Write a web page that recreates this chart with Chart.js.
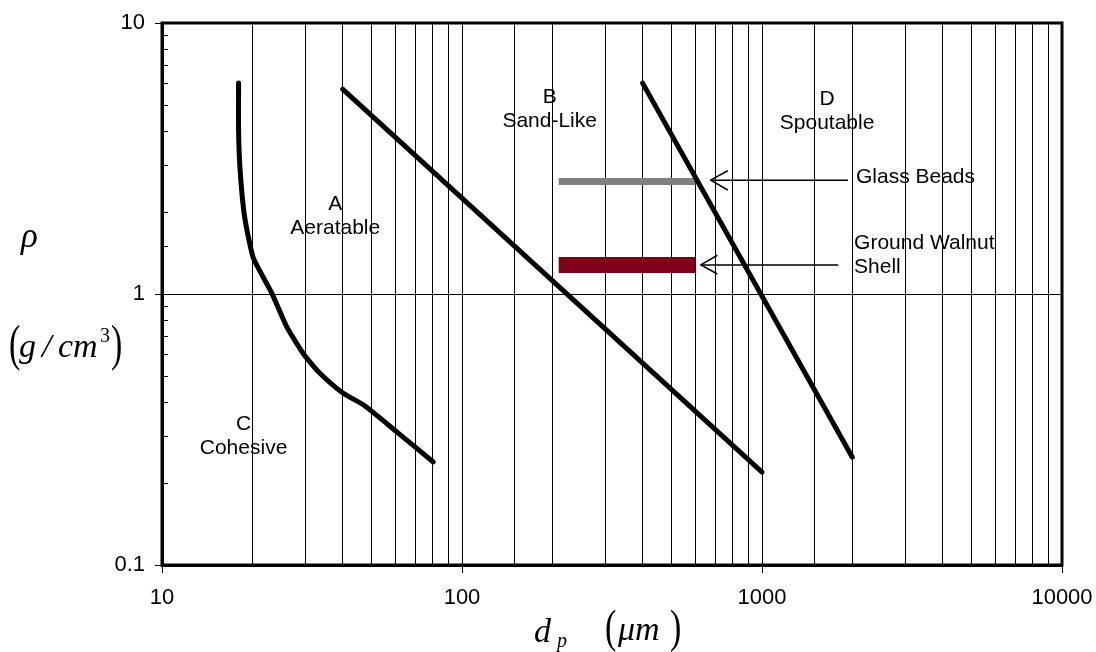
<!DOCTYPE html>
<html>
<head>
<meta charset="utf-8">
<title>Geldart powder classification</title>
<script src="https://cdn.jsdelivr.net/npm/chart.js@4.4.0/dist/chart.umd.min.js"></script>
<style>
  html, body { margin: 0; padding: 0; background: #fff; }
</style>
</head>
<body>
<canvas id="geldart" width="1096" height="652"></canvas>
<script>
// axis limits (log-log)
const X_MIN = 10, X_MAX = 10000;
const Y_MIN = 0.1, Y_MAX = 10;

// C / A boundary (cohesive)
const cohesiveX = [18, 18, 18.2, 18.7, 19.3, 20.2, 23.2, 26, 28.8, 30, 33.6, 40.2, 46.9, 60.6, 80.2];
const cohesiveY = [6.0, 4.0, 2.9, 2.06, 1.67, 1.35, 1.01, 0.76, 0.63, 0.59, 0.51, 0.43, 0.39, 0.31, 0.24];

// A / B boundary
const aeratableX = [40, 1000];
const aeratableY = [5.7, 0.22];

// B / D boundary
const spoutableX = [400, 2000];
const spoutableY = [6.0, 0.25];

// particle size ranges of the two test powders
const glassX = [210, 600];
const glassY = [2.6, 2.6];
const walnutX = [210, 600];
const walnutY = [1.28, 1.28];

// pointer arrows: shaft and head (wing, tip, wing)
const glassArrowX = [1935, 674];
const glassArrowY = [2.63, 2.63];
const glassHeadX = [769, 674, 769];
const glassHeadY = [2.85, 2.63, 2.42];
const walnutArrowX = [1795, 625];
const walnutArrowY = [1.28, 1.28];
const walnutHeadX = [710, 625, 710];
const walnutHeadY = [1.39, 1.28, 1.185];

// region and powder labels, x/y in data units (first line), lines stack downward
const labelText = [["A", "Aeratable"], ["B", "Sand-Like"], ["C", "Cohesive"], ["D", "Spoutable"],
                   ["Glass Beads"], ["Ground Walnut", "Shell"]];
const labelX = [37.8, 196, 18.7, 1648, 2057, 2027];
const labelY = [2.19, 5.43, 0.337, 5.33, 2.75, 1.57];
const labelAlign = ["center", "center", "center", "center", "left", "left"];

const SANS = "'Liberation Sans', Arial, sans-serif";
const SERIF = "'Liberation Serif', 'Times New Roman', serif";

function pts(xs, ys) {
  return xs.map((v, i) => ({ x: v, y: ys[i] }));
}

function isDecade(v) {
  const l = Math.log10(v);
  return Math.abs(l - Math.round(l)) < 1e-6;
}

function line(label, xs, ys, color, width, cap, tension) {
  return {
    label: label,
    data: pts(xs, ys),
    showLine: true,
    borderColor: color,
    backgroundColor: color,
    borderWidth: width,
    borderCapStyle: cap || "round",
    borderJoinStyle: "round",
    pointRadius: 0,
    tension: tension || 0
  };
}

// draws a tall bracket by stretching a normal glyph vertically
function bracket(ctx, ch, x, baseline, size, stretch) {
  ctx.save();
  ctx.translate(x, baseline);
  ctx.scale(1, stretch);
  ctx.font = size + "px " + SERIF;
  ctx.fillText(ch, 0, 0);
  ctx.restore();
}

// frame, inner minor ticks, labels and axis titles
const decorPlugin = {
  id: "decor",
  afterDatasetsDraw(chart) {
    const { ctx, chartArea: a, scales } = chart;
    const x = scales.x, y = scales.y;
    ctx.save();

    // minor ticks on the left axis point into the plot
    ctx.strokeStyle = "#000";
    ctx.lineWidth = 1;
    y.ticks.forEach(t => {
      if (isDecade(t.value)) return;
      const py = Math.round(y.getPixelForValue(t.value)) + 0.5;
      ctx.beginPath();
      ctx.moveTo(a.left, py);
      ctx.lineTo(a.left + 6, py);
      ctx.stroke();
    });

    // heavy frame round the plot
    ctx.lineWidth = 3;
    ctx.strokeRect(a.left, a.top, a.right - a.left, a.bottom - a.top);

    // labels
    ctx.fillStyle = "#000";
    ctx.font = "21px " + SANS;
    ctx.textBaseline = "middle";
    labelText.forEach((lines, i) => {
      const px = x.getPixelForValue(labelX[i]);
      const py = y.getPixelForValue(labelY[i]) + 2;
      ctx.textAlign = labelAlign[i];
      lines.forEach((s, j) => ctx.fillText(s, px, py + j * 24));
    });

    // y title: rho over (g / cm^3)
    ctx.textAlign = "left";
    ctx.textBaseline = "alphabetic";
    ctx.font = "italic 35px " + SERIF;
    ctx.fillText("\u03c1", 21, 247);

    bracket(ctx, "(", 9, 360, 34, 1.5);
    bracket(ctx, ")", 111, 360, 34, 1.5);
    ctx.font = "italic 34px " + SERIF;
    ctx.fillText("g", 19, 357);
    ctx.fillText("/", 42, 357);
    ctx.fillText("cm", 58, 357);
    ctx.font = "20px " + SERIF;
    ctx.fillText("3", 100, 342);

    // x title: d_p (um)
    ctx.font = "italic 34px " + SERIF;
    ctx.fillText("d", 534, 642);
    ctx.font = "italic 20px " + SERIF;
    ctx.fillText("p", 557, 647);
    bracket(ctx, "(", 605, 642, 34, 1.35);
    bracket(ctx, ")", 670, 642, 34, 1.35);
    ctx.font = "italic 34px " + SERIF;
    ctx.fillText("\u03bcm", 618, 640);

    ctx.restore();
  }
};

const ctx = document.getElementById("geldart").getContext("2d");
const chart = new Chart(ctx, {
  type: "scatter",
  data: {
    datasets: [
      line("Cohesive boundary", cohesiveX, cohesiveY, "#000", 5, "round", 0.2),
      line("Aeratable boundary", aeratableX, aeratableY, "#000", 5),
      line("Spoutable boundary", spoutableX, spoutableY, "#000", 5),
      line("Glass Beads", glassX, glassY, "#808080", 7, "butt"),
      line("Ground Walnut Shell", walnutX, walnutY, "#7f0019", 16, "butt"),
      line("Glass Beads arrow", glassArrowX, glassArrowY, "#000", 1.5, "butt"),
      line("Glass Beads head", glassHeadX, glassHeadY, "#000", 1.5, "butt"),
      line("Walnut arrow", walnutArrowX, walnutArrowY, "#000", 1.5, "butt"),
      line("Walnut head", walnutHeadX, walnutHeadY, "#000", 1.5, "butt")
    ]
  },
  options: {
    responsive: false,
    animation: false,
    layout: { padding: { left: 0, top: 23, right: 34, bottom: 0 } },
    plugins: {
      legend: { display: false },
      tooltip: { enabled: false }
    },
    scales: {
      x: {
        type: "logarithmic",
        min: X_MIN,
        max: X_MAX,
        border: { display: true, color: "#000", width: 3 },
        grid: {
          color: "#000",
          lineWidth: 1,
          tickLength: 8,
          tickColor: c => (c.tick && isDecade(c.tick.value)) ? "#000" : "rgba(0,0,0,0)"
        },
        ticks: {
          autoSkip: false,
          maxRotation: 0,
          padding: 12,
          color: "#000",
          font: { family: SANS, size: 22 },
          callback: v => isDecade(v) ? String(Math.round(v)) : ""
        },
        afterFit: s => {
          s.height = 87;
          // keep the end labels from shrinking the plot
          s.paddingLeft = 0;
          s.paddingRight = 0;
        }
      },
      y: {
        type: "logarithmic",
        min: Y_MIN,
        max: Y_MAX,
        border: { display: true, color: "#000", width: 3 },
        grid: {
          color: c => (c.tick && Math.abs(c.tick.value - 1) < 1e-9) ? "#000" : "rgba(0,0,0,0)",
          lineWidth: 1,
          tickLength: 7,
          tickColor: c => (c.tick && isDecade(c.tick.value)) ? "#000" : "rgba(0,0,0,0)"
        },
        ticks: {
          autoSkip: false,
          padding: 10,
          color: "#000",
          font: { family: SANS, size: 22 },
          callback: v => isDecade(v) ? (v < 1 ? v.toFixed(1) : String(Math.round(v))) : ""
        },
        afterFit: s => {
          s.width = 162;
          s.paddingTop = 0;
          s.paddingBottom = 0;
        }
      }
    }
  },
  plugins: [decorPlugin]
});
</script>
</body>
</html>
